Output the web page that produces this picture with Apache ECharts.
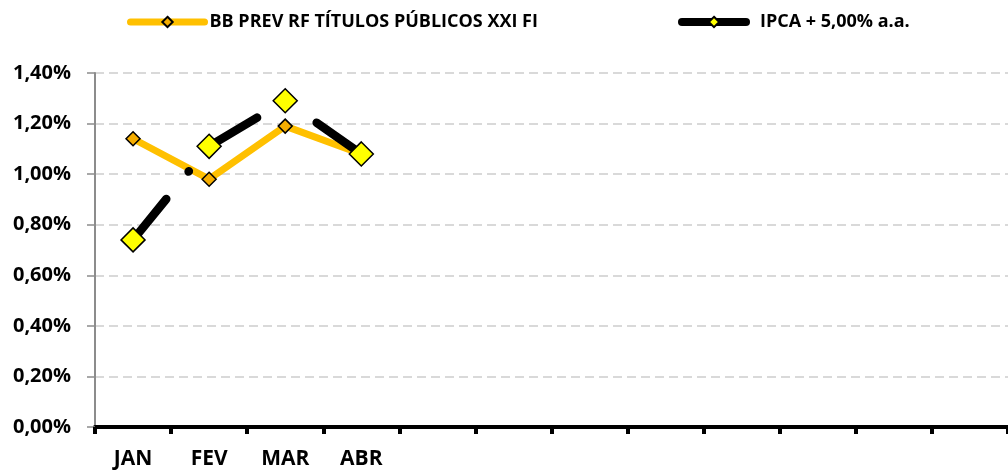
<!DOCTYPE html>
<html>
<head>
<meta charset="utf-8">
<script src="https://cdn.jsdelivr.net/npm/echarts@6/dist/echarts.min.js"></script>
<style>
  html, body { margin: 0; padding: 0; background: #fff; }
  #chart { width: 1008px; height: 471px; }
</style>
</head>
<body>
<div id="chart"></div>
<script>
  // dados (% ao mês)
  var meses = ['JAN', 'FEV', 'MAR', 'ABR', '', '', '', '', '', '', '', '']
  var fundoNome = 'BB PREV RF TÍTULOS PÚBLICOS XXI FI'
  var fundo = [1.14, 0.98, 1.19, 1.08]
  var metaNome = 'IPCA + 5,00% a.a.'
  var meta = [0.74, 1.11, 1.29, 1.08]
  var yTicks = { min: 0, max: 1.4, interval: 0.2 }

  var fonte = '"Open Sans", "Liberation Sans", sans-serif'

  var chart = echarts.init(document.getElementById('chart'))
  chart.setOption({
    animation: false,
    textStyle: { fontFamily: fonte },
    legend: [
      {
        left: 122,
        top: 8,
        itemWidth: 74,
        itemHeight: 13,
        itemGap: 6,
        textStyle: { color: '#000', fontSize: 18, fontWeight: 'bold', fontFamily: fonte },
        lineStyle: { type: 'solid', width: 7, cap: 'round' },
        data: [fundoNome]
      },
      {
        left: 673,
        top: 8,
        itemWidth: 64,
        itemHeight: 13,
        itemGap: 6,
        textStyle: { color: '#000', fontSize: 18, fontWeight: 'bold', fontFamily: fonte, padding: [0, 0, 0, 9] },
        lineStyle: { type: 'solid', width: 8, cap: 'round' },
        data: [metaNome]
      }
    ],
    grid: {
      left: 95,
      top: 73,
      right: -4,
      bottom: 44,
      containLabel: false
    },
    xAxis: {
      type: 'category',
      data: meses,
      boundaryGap: true,
      axisLine: {
        lineStyle: { color: '#000', width: 4 }
      },
      axisTick: {
        show: true,
        interval: 0,
        length: 7,
        lineStyle: { color: '#000', width: 4 }
      },
      axisLabel: {
        interval: 0,
        margin: 22,
        color: '#000',
        fontSize: 21,
        fontWeight: 'bold',
        fontFamily: fonte
      }
    },
    yAxis: {
      type: 'value',
      min: yTicks.min,
      max: yTicks.max,
      interval: yTicks.interval,
      axisLine: {
        show: true,
        lineStyle: { color: '#8c8c8c', width: 2 }
      },
      axisTick: {
        show: true,
        length: 8,
        lineStyle: { color: '#8c8c8c', width: 1.5 }
      },
      axisLabel: {
        margin: 24,
        color: '#000',
        fontSize: 20,
        fontWeight: 'bold',
        fontFamily: fonte,
        formatter: function (v) {
          return v.toFixed(2).replace('.', ',') + '%'
        }
      },
      splitLine: {
        show: true,
        lineStyle: { color: '#d9d9d9', width: 2, type: [9, 5] }
      }
    },
    series: [
      {
        name: fundoNome,
        type: 'line',
        data: fundo,
        symbol: 'diamond',
        symbolSize: 14,
        lineStyle: { color: '#FFC000', width: 7 },
        itemStyle: { color: '#F5AD00', borderColor: '#000', borderWidth: 1.5 }
      },
      {
        name: metaNome,
        type: 'line',
        data: meta,
        symbol: 'diamond',
        symbolSize: 24,
        lineStyle: {
          color: '#000',
          width: 8.5,
          cap: 'round',
          type: [52.7, 35.3, 0.5, 35.3]
        },
        itemStyle: { color: '#FFFF00', borderColor: '#000', borderWidth: 1.5 }
      }
    ]
  })
</script>
</body>
</html>
